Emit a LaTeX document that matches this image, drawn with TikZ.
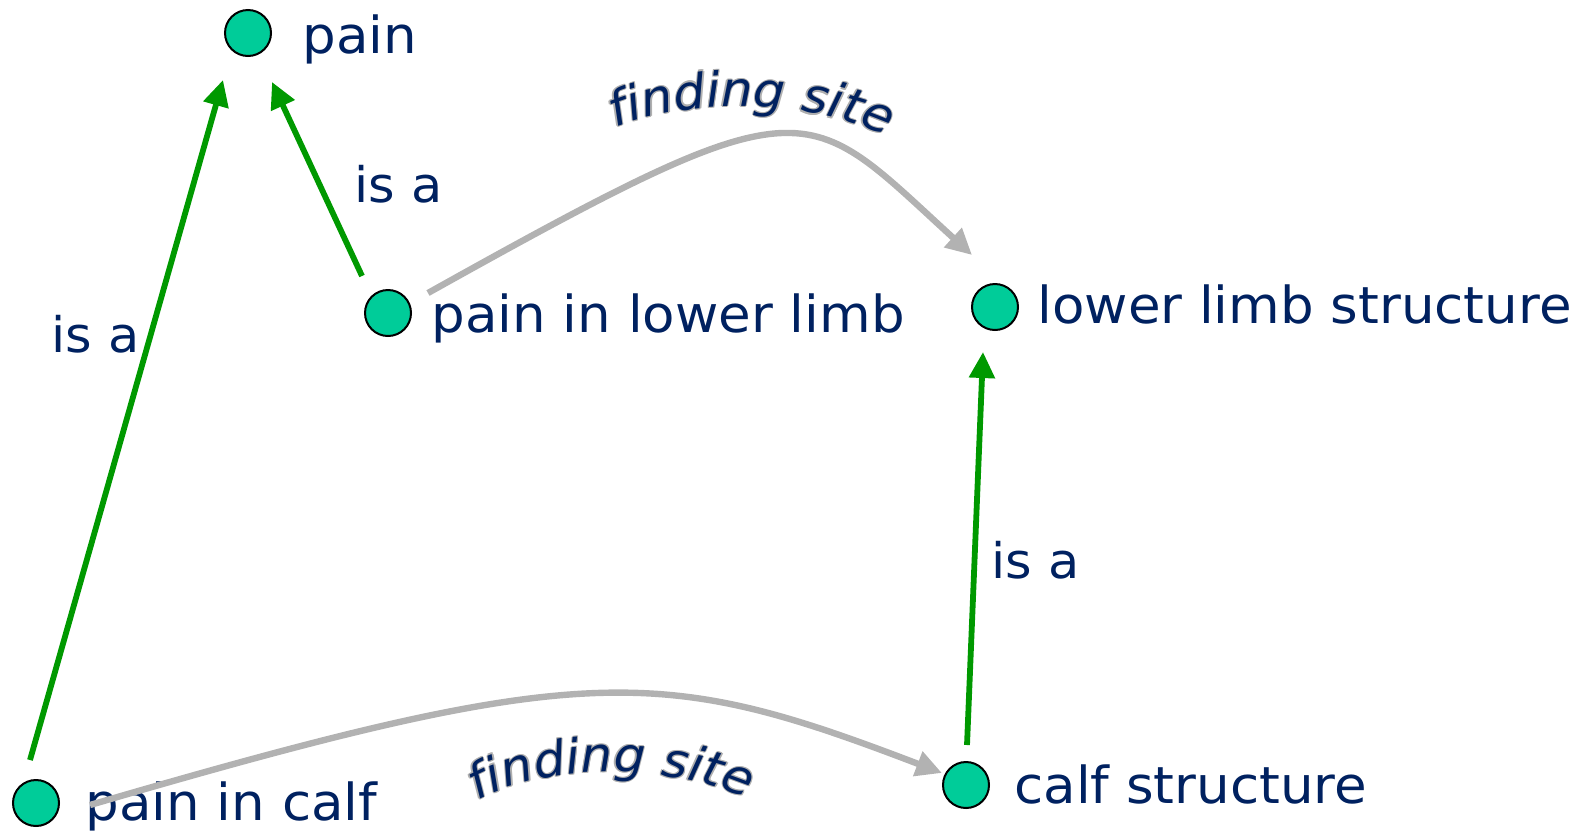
\documentclass[tikz,border=0pt]{standalone}
\usepackage{fontspec}
\setmainfont{DejaVu Sans}[FakeStretch=1.04, ItalicFont={DejaVu Sans Oblique}]
\usetikzlibrary{arrows.meta,decorations.text}
\definecolor{navy}{RGB}{0,33,96}
\definecolor{dotfill}{RGB}{0,204,153}
\definecolor{isagreen}{RGB}{0,153,0}
\definecolor{sitegray}{RGB}{178,178,178}
\definecolor{glowgray}{RGB}{175,175,175}
\newcommand\lblfont{\fontsize{25.5pt}{30pt}\selectfont}
\newcommand\isafont{\fontsize{24.5pt}{30pt}\selectfont}
\newcommand\fsfont{\fontsize{24pt}{30pt}\selectfont\itshape}
\begin{document}
\begin{tikzpicture}[x=0.5pt,y=-0.5pt,
  dot/.style={circle,draw=black,line width=1pt,fill=dotfill,minimum size=23pt,inner sep=0pt},
  lbl/.style={anchor=base west,inner sep=0pt,text=navy,font=\lblfont},
  isalbl/.style={lbl,font=\isafont},
  isa/.style={draw=isagreen,line width=2.9pt,-{Triangle[length=13pt,width=12.5pt]}},
  site/.style={draw=sitegray,line width=3.2pt,-{Triangle[length=13pt,width=12.5pt]}},
  glowtext/.style={decorate, decoration={text along path, text={|\fsfont|finding site}, text align=center, text color=glowgray}},
  sitetext/.style={decorate, decoration={text along path, text={|\fsfont|finding site}, text align=center, text color=navy}},
]
\useasboundingbox (0,0) rectangle (1593,831);
% nodes
\node[dot] (pain)  at (248,33)  {};
\node[dot] (plimb) at (388,313) {};
\node[dot] (lls)   at (995,307) {};
\node[dot] (calf)  at (36,803)  {};
\node[dot] (calfs) at (966,785) {};
\node[lbl] (tpain)  at (302,53)   {pain};
\node[lbl] (tplimb) at (431,332)  {pain in lower limb};
\node[lbl] (tlls)   at (1037,323) {lower limb structure};
\node[lbl] (tcalf)  at (85,820)   {pain in calf};
\node[lbl] (tcalfs) at (1014,803) {calf structure};
% is-a edges
\draw[isa] ([shift={(-6,-43)}]calf.center) -- ([shift={(-25,47)}]pain.center);
\draw[isa] ([shift={(-26,-37)}]plimb.center) -- ([shift={(24,49)}]pain.center);
\draw[isa] ([shift={(1,-40)}]calfs.center) -- ([shift={(-12,45)}]lls.center);
\node[isalbl] (isa1) at (51,352)  {is a};
\node[isalbl] (isa2) at (354,202) {is a};
\node[isalbl] (isa3) at (991,578) {is a};
% finding site edges
\draw[site] ([shift={(40,-20)}]plimb.center) .. controls +(385,-215) and +(-170,-155) .. ([shift={(-23,-52)}]lls.center);
\draw[site] ([shift={(54,2)}]calf.center) .. controls +(499,-146) and +(-280,-107) .. ([shift={(-24,-12)}]calfs.center);
% finding site labels
\foreach \a in {0,60,...,300}{
  \path[shift={(\a:1.3)}, glowtext]
    (584,141) -- (612,129) .. controls (680,100) and (800,95) .. (890,138) -- (917,151);
  \path[shift={(\a:1.3)}, glowtext]
    (449,817) -- (475,802) .. controls (540,765) and (660,760) .. (750,800) -- (777,812);
}
\path[sitetext]
  (584,141) -- (612,129) .. controls (680,100) and (800,95) .. (890,138) -- (917,151);
\path[sitetext]
  (449,817) -- (475,802) .. controls (540,765) and (660,760) .. (750,800) -- (777,812);
\end{tikzpicture}
\end{document}
